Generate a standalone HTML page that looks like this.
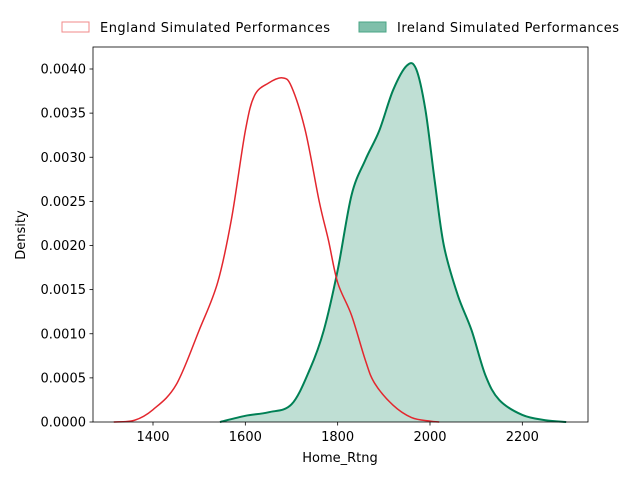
<!DOCTYPE html>
<html><head><meta charset="utf-8"><style>
body{margin:0;background:#fff;font-family:"Liberation Sans","DejaVu Sans",sans-serif}
svg text{font-family:"DejaVu Sans","Liberation Sans",sans-serif;fill:#000}
</style></head><body>
<svg id="c" width="640" height="480"></svg>
<script>
const xTicks=[1400,1600,1800,2000,2200];
const yTicks=[0,0.0005,0.001,0.0015,0.002,0.0025,0.003,0.0035,0.004];
const yTickLabels=["0.0000","0.0005","0.0010","0.0015","0.0020","0.0025","0.0030","0.0035","0.0040"];
const engX=[1315,1360,1400,1450,1500,1540,1570,1600,1620,1650,1680,1700,1730,1760,1780,1800,1830,1860,1880,1920,1960,2000,2020];
const engY=[0,0.00002,0.00014,0.00042,0.00104,0.00158,0.0023,0.0033,0.0037,0.00384,0.0039,0.0038,0.0033,0.0025,0.00206,0.00158,0.00121,0.0007,0.00044,0.00019,0.00005,0.00001,0];
const ireX=[1545,1600,1650,1700,1740,1770,1800,1830,1860,1890,1920,1950,1970,1990,2010,2030,2060,2090,2120,2150,2200,2250,2295];
const ireY=[0,0.00007,0.00011,0.0002,0.0006,0.00104,0.00172,0.00257,0.00297,0.0033,0.00376,0.00404,0.004,0.00354,0.00274,0.002,0.00144,0.00104,0.00053,0.00025,0.00008,0.00002,0];
const L=93,R=588,T=47,B=422;
const sx=v=>153+(v-1400)*(430-153)/600;
const sy=v=>B-v*(B-69)/0.004;
const NS="http://www.w3.org/2000/svg";
const svg=document.getElementById('c');
function mk(t,a,p){const e=document.createElementNS(NS,t);for(const k in a)e.setAttribute(k,a[k]);(p||svg).appendChild(e);return e;}
function smooth(xs,ys){let pts=xs.map((x,i)=>[sx(x),sy(ys[i])]);let d="M"+pts[0][0]+","+pts[0][1];
for(let i=0;i<pts.length-1;i++){const p0=pts[i-1]||pts[i],p1=pts[i],p2=pts[i+1],p3=pts[i+2]||p2;
const c1=[p1[0]+(p2[0]-p0[0])/6,p1[1]+(p2[1]-p0[1])/6],c2=[p2[0]-(p3[0]-p1[0])/6,p2[1]-(p3[1]-p1[1])/6];
d+=` C${c1[0]},${c1[1]} ${c2[0]},${c2[1]} ${p2[0]},${p2[1]}`;}return d;}
const ired=smooth(ireX,ireY);
const fill=mk('path',{d:ired+` L${sx(ireX[ireX.length-1])},${B} L${sx(ireX[0])},${B} Z`,fill:'#008055','fill-opacity':0.25,stroke:'none'});


const ire=mk('path',{d:ired,fill:'none',stroke:'#008055','stroke-width':2});


const eng=mk('path',{d:smooth(engX,engY),fill:'none',stroke:'#e3272e','stroke-width':1.5});


const frame=mk('rect',{x:L,y:T,width:R-L,height:B-T,fill:'none',stroke:'#000','stroke-width':0.8});


xTicks.forEach(v=>{const x=sx(v);
const tk=mk('line',{x1:x,x2:x,y1:B,y2:B+3.5,stroke:'#000','stroke-width':0.8});


const t=mk('text',{x:x,y:B+19,'text-anchor':'middle','font-size':13});t.textContent=v;

});
yTicks.forEach((v,i)=>{const y=sy(v);
const tk=mk('line',{x1:L-3.5,x2:L,y1:y,y2:y,stroke:'#000','stroke-width':0.8});


const t=mk('text',{x:L-7,y:y+4.5,'text-anchor':'end','font-size':13});t.textContent=yTickLabels[i];

});
const xt=mk('text',{x:340,y:462,'text-anchor':'middle','font-size':13});xt.textContent='Home_Rtng';


const yt=mk('text',{x:25,y:235,'text-anchor':'middle','font-size':13,transform:'rotate(-90 25 235)'});yt.textContent='Density';


const g=mk('g',{});


const b1=mk('rect',{x:62,y:22,width:27,height:10,fill:'none',stroke:'#f08a8a','stroke-width':1},g);


const t1=mk('text',{x:100,y:32,'font-size':13,textLength:230},g);t1.textContent='England Simulated Performances';


const b2=mk('rect',{x:359,y:22,width:27,height:10,fill:'#7fbfaa',stroke:'#4aa585','stroke-width':1},g);


const t2=mk('text',{x:397,y:32,'font-size':13,textLength:222},g);t2.textContent='Ireland Simulated Performances';


</script>
</body></html>
